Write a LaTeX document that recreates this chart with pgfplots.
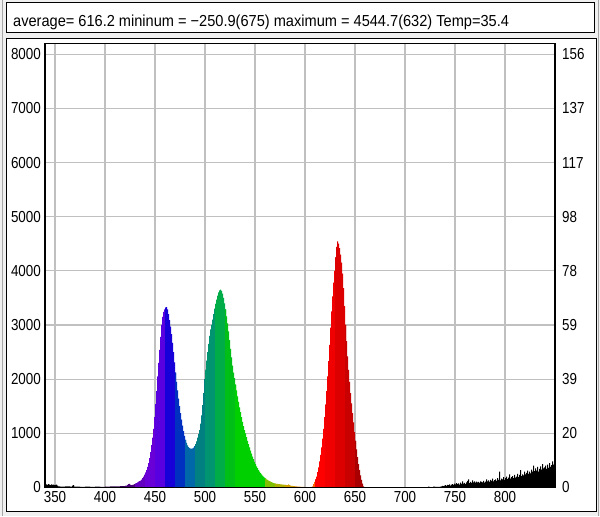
\documentclass[border=0pt]{standalone}
\usepackage{pgfplots}
\pgfplotsset{compat=1.18}
\usepackage{pgfplotstable}
\usepackage{fontspec}
\setmainfont{Liberation Sans}[FakeStretch=0.84]
\newfontfamily\titlefont{Liberation Sans}[FakeStretch=0.915]
\definecolor{bgray}{HTML}{F0F0F0}
\definecolor{gridgray}{HTML}{C0C0C0}
\definecolor{c390}{HTML}{1A0028}
\definecolor{c400}{HTML}{2A0040}
\definecolor{c410}{HTML}{3A0058}
\definecolor{c420}{HTML}{4A0078}
\definecolor{c430}{HTML}{6400C0}
\definecolor{c440}{HTML}{6A00D8}
\definecolor{c450}{HTML}{5800E0}
\definecolor{c460}{HTML}{1800D8}
\definecolor{c470}{HTML}{0030C0}
\definecolor{c480}{HTML}{0068A8}
\definecolor{c490}{HTML}{008080}
\definecolor{c500}{HTML}{009470}
\definecolor{c510}{HTML}{00AC48}
\definecolor{c520}{HTML}{00C018}
\definecolor{c530}{HTML}{00D000}
\definecolor{c560}{HTML}{80C000}
\definecolor{c570}{HTML}{B0B000}
\definecolor{c580}{HTML}{D0A000}
\definecolor{c590}{HTML}{E08000}
\definecolor{c600}{HTML}{FF6000}
\definecolor{c610}{HTML}{FF0000}
\definecolor{c620}{HTML}{F00000}
\definecolor{c630}{HTML}{DC0000}
\definecolor{c640}{HTML}{C80000}
\definecolor{c650}{HTML}{A80000}
\definecolor{c660}{HTML}{700000}
\pgfplotstableread[row sep=\\]{
x y\\
340 50\\ 341 55\\ 342 45\\ 343 60\\ 344 50\\ 345 40\\ 346 55\\ 347 45\\ 348 50\\ 349 40\\
350 45\\ 351 50\\ 352 35\\ 353 20\\ 355 15\\ 360 18\\ 365 15\\ 367 35\\ 368 40\\ 369 15\\
375 12\\ 380 15\\ 385 12\\ 390 15\\ 395 12\\ 400 15\\ 405 18\\ 410 20\\ 415 25\\ 420 30\\
421 35\\ 422 45\\ 423 60\\ 424 65\\ 425 45\\ 426 40\\ 427 45\\ 428 50\\ 429 60\\ 430 70\\
431 80\\ 432 95\\ 433 105\\ 434 115\\ 435 125\\ 436 145\\ 437 170\\ 438 200\\ 439 235\\ 440 275\\
441 320\\ 442 380\\ 443 450\\ 444 540\\ 445 650\\ 446 780\\ 447 920\\ 448 1080\\ 449 1300\\ 450 1540\\
451 1780\\ 452 2050\\ 453 2300\\ 454 2540\\ 455 2780\\ 456 3000\\ 457 3150\\ 458 3240\\ 459 3290\\ 460 3320\\
461 3328\\ 462 3290\\ 463 3200\\ 464 3090\\ 465 2970\\ 466 2830\\ 467 2670\\ 468 2500\\ 469 2310\\ 470 2120\\
471 1950\\ 472 1790\\ 473 1640\\ 474 1500\\ 475 1370\\ 476 1250\\ 477 1140\\ 478 1040\\ 479 950\\ 480 880\\
481 820\\ 482 775\\ 483 745\\ 484 725\\ 485 715\\ 486 715\\ 487 720\\ 488 735\\ 489 760\\ 490 800\\
491 850\\ 492 920\\ 493 990\\ 494 1060\\ 495 1180\\ 496 1330\\ 497 1520\\ 498 1740\\ 499 2000\\ 500 2170\\
501 2340\\ 502 2500\\ 503 2650\\ 504 2800\\ 505 2920\\ 506 3000\\ 507 3100\\ 508 3200\\ 509 3300\\ 510 3390\\
511 3470\\ 512 3540\\ 513 3600\\ 514 3640\\ 515 3654\\ 516 3630\\ 517 3580\\ 518 3500\\ 519 3400\\ 520 3290\\
521 3160\\ 522 3030\\ 523 2880\\ 524 2720\\ 525 2560\\ 526 2400\\ 527 2250\\ 528 2120\\ 529 2020\\ 530 1900\\
531 1790\\ 532 1680\\ 533 1580\\ 534 1480\\ 535 1390\\ 536 1300\\ 537 1210\\ 538 1130\\ 539 1060\\ 540 1000\\
541 930\\ 542 860\\ 543 800\\ 544 740\\ 545 680\\ 546 625\\ 547 570\\ 548 520\\ 549 470\\ 550 430\\
551 390\\ 552 355\\ 553 320\\ 554 290\\ 555 265\\ 556 240\\ 557 218\\ 558 198\\ 559 180\\ 560 165\\
561 150\\ 562 138\\ 563 126\\ 564 115\\ 565 105\\ 566 96\\ 567 88\\ 568 80\\ 569 75\\ 570 70\\
571 67\\ 572 65\\ 573 62\\ 574 60\\ 575 57\\ 576 55\\ 577 53\\ 578 52\\ 579 48\\ 580 45\\
581 43\\ 582 42\\ 583 55\\ 584 40\\ 585 35\\ 586 30\\ 587 28\\ 588 25\\ 589 22\\ 590 20\\
592 15\\ 595 10\\ 600 5\\ 605 5\\ 606 10\\ 607 20\\ 608 60\\ 609 100\\ 610 150\\
611 200\\ 612 280\\ 613 370\\ 614 480\\ 615 600\\ 616 740\\ 617 900\\ 618 1080\\ 619 1300\\ 620 1530\\
621 1780\\ 622 2050\\ 623 2330\\ 624 2630\\ 625 2950\\ 626 3250\\ 627 3530\\ 628 3780\\ 629 4000\\ 630 4250\\
631 4440\\ 632 4545\\ 633 4500\\ 634 4420\\ 635 4300\\ 636 4150\\ 637 3950\\ 638 3680\\ 639 3350\\ 640 3000\\
641 2700\\ 642 2420\\ 643 2170\\ 644 1950\\ 645 1740\\ 646 1550\\ 647 1370\\ 648 1200\\ 649 1020\\ 650 860\\
651 700\\ 652 560\\ 653 430\\ 654 320\\ 655 220\\ 656 140\\ 657 70\\ 658 20\\ 659 0\\ 660 0\\
670 0\\ 680 0\\ 690 0\\ 700 0\\ 710 5\\ 720 5\\ 723 15\\ 724 10\\ 725 5\\ 728 15\\ 730 10\\ 735 15\\
736 20\\ 737 30\\ 738 25\\ 739 35\\ 740 40\\ 741 30\\ 742 45\\ 743 40\\ 744 55\\ 745 35\\
746 50\\ 747 60\\ 748 45\\ 749 70\\ 750 55\\ 751 80\\ 752 60\\ 753 75\\ 754 50\\ 755 90\\
756 65\\ 757 110\\ 758 70\\ 759 85\\ 760 60\\ 761 95\\ 762 120\\ 763 150\\ 764 80\\ 765 100\\
766 85\\ 767 130\\ 768 95\\ 769 110\\ 770 90\\ 771 105\\ 772 95\\ 773 100\\ 774 85\\ 775 110\\
776 100\\ 777 95\\ 778 120\\ 779 90\\ 780 105\\ 781 150\\ 782 110\\ 783 130\\ 784 100\\ 785 140\\
786 120\\ 787 160\\ 788 110\\ 789 135\\ 790 150\\ 791 120\\ 792 170\\ 793 140\\ 794 290\\ 795 130\\
796 160\\ 797 150\\ 798 190\\ 799 140\\ 800 170\\ 801 200\\ 802 155\\ 803 180\\ 804 240\\ 805 160\\
806 190\\ 807 210\\ 808 170\\ 809 230\\ 810 180\\ 811 200\\ 812 250\\ 813 190\\ 814 230\\ 815 320\\
816 210\\ 817 240\\ 818 220\\ 819 290\\ 820 240\\ 821 270\\ 822 310\\ 823 250\\ 824 290\\ 825 260\\
826 330\\ 827 290\\ 828 400\\ 829 300\\ 830 350\\ 831 310\\ 832 380\\ 833 290\\ 834 340\\ 835 390\\
836 330\\ 837 430\\ 838 350\\ 839 370\\ 840 400\\ 841 340\\ 842 420\\ 843 360\\ 844 450\\ 845 380\\
846 410\\ 847 480\\ 848 420\\ 849 470\\ 850 460\\
}\spec
\newcommand{\band}[3]{\addplot[const plot, fill=#3, draw=none, restrict x to domain=#1:#2] table[x=x,y=y]{\spec} \closedcycle;}
\newcommand{\tfont}{\fontsize{16}{16}\selectfont}
\begin{document}
\begin{tikzpicture}
\fill[bgray] (0bp,0bp) rectangle (600bp,516bp);
\draw[gray!70, line width=0.8bp] (2bp,0bp) -- (2bp,516bp) (598bp,0bp) -- (598bp,516bp);
\filldraw[fill=white, draw=black, line width=1bp] (6.5bp,484bp) rectangle (594.5bp,513.5bp);
\filldraw[fill=white, draw=black, line width=1bp] (6.5bp,5bp) rectangle (596bp,477.5bp);
\node[anchor=base west, inner sep=0pt] at (13bp,489.5bp) {\titlefont\fontsize{16}{16}\selectfont average= 616.2 mininum = −250.9(675) maximum = 4544.7(632) Temp=35.4};
\begin{axis}[
  scale only axis, width=510bp, height=444bp,
  at={(45bp,29bp)}, anchor=south west,
  xmin=340, xmax=850, ymin=0, ymax=8200,
  xtick={350,400,...,800}, ytick={0,1000,...,8000},
  grid=major, grid style={color=gridgray, line width=1.1bp},
  axis line style={draw=none},
  tick label style={font=\tfont, inner sep=0pt},
  /pgf/number format/assume math mode=true,
  scaled ticks=false, /pgf/number format/set thousands separator={},
  xticklabel shift=4bp, yticklabel shift=4bp,
  xtick style={draw=none}, ytick style={draw=none},
]
\band{340}{391}{black}
\band{390}{401}{c390}
\band{400}{411}{c400}
\band{410}{421}{c410}
\band{420}{431}{c420}
\band{430}{441}{c430}
\band{440}{451}{c440}
\band{450}{461}{c450}
\band{460}{471}{c460}
\band{470}{481}{c470}
\band{480}{491}{c480}
\band{490}{501}{c490}
\band{500}{511}{c500}
\band{510}{521}{c510}
\band{520}{531}{c520}
\band{530}{561}{c530}
\band{560}{571}{c560}
\band{570}{581}{c570}
\band{580}{591}{c580}
\band{590}{601}{c590}
\band{600}{611}{c600}
\band{610}{621}{c610}
\band{620}{631}{c620}
\band{630}{641}{c630}
\band{640}{651}{c640}
\band{650}{661}{c650}
\band{660}{701}{c660}
\band{700}{850}{black}
\end{axis}
\begin{axis}[
  scale only axis, width=510bp, height=444bp,
  at={(45bp,29bp)}, anchor=south west,
  xmin=340, xmax=850, ymin=0, ymax=8200,
  xtick=\empty,
  axis line style={black, line width=1.3bp},
  ytick={0,1000,...,8000},
  yticklabels={0,20,39,59,78,98,117,137,156},
  yticklabel pos=right,
  ytick style={draw=none},
  tick label style={font=\tfont, inner sep=0pt},
  yticklabel shift=7bp,
]
\addplot[draw=none] coordinates {(340,0) (850,0)};
\end{axis}
\end{tikzpicture}
\end{document}
